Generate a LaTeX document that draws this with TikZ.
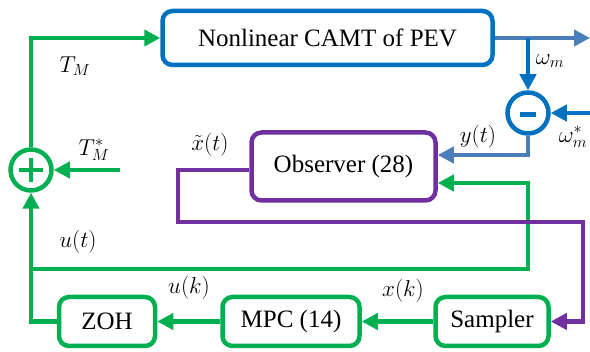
\RequirePackage{fix-cm}
\documentclass[tikz,border=0pt]{standalone}
\usepackage{fontspec}
\setmainfont{Liberation Serif}
\usetikzlibrary{arrows.meta}
\definecolor{grn}{HTML}{00B050}
\definecolor{blu}{HTML}{0070C0}
\definecolor{lblu}{HTML}{4A7EBB}
\definecolor{prp}{HTML}{7030A0}

\begin{document}
\begin{tikzpicture}[x=1pt, y=-1pt, line width=4.5pt,
  blk/.style={draw, rounded corners=10pt, inner sep=0pt, font=\fontsize{25}{30}\selectfont},
  sig/.style={-{Triangle[length=16pt,width=16pt]}},
  lab/.style={font=\fontsize{23}{28}\selectfont}]
\useasboundingbox (0,0) rectangle (590,352);
%
             \node [blk, draw=blu, minimum width=330pt, minimum height=54pt] at (327.5,38) (plant) {Nonlinear CAMT of PEV};
              \node [blk, draw=prp, minimum width=184pt, minimum height=68pt] at (343.5,166.5) (obs) {Observer (28)};
                   \node [blk, draw=grn, minimum width=96pt, minimum height=49pt] at (107,321.5) (zoh) {ZOH};
                       \node [blk, draw=grn, minimum width=137pt, minimum height=49pt] at (291,321.5) (mpc) {MPC (14)};
                        \node [blk, draw=grn, minimum width=113pt, minimum height=49pt] at (492,321.5) (smp) {Sampler};
                        \node [circle, draw=grn, minimum size=41pt, inner sep=0pt] at (31,170) (sum) {};
                          \node [circle, draw=blu, minimum size=41pt, inner sep=0pt] at (528,113) (dif) {};
%
                           \coordinate (tref) at (120,170);
                           \coordinate (wref) at (590,113);
                           \coordinate (wout) at (590,38);
                           \coordinate (ut) at (31,269);
                           \coordinate (pl) at (178,222);
                           \coordinate (pr) at (583,222);
%
\draw[grn, line width=4pt] ([xshift=-12pt]sum.center) -- ([xshift=12pt]sum.center);
\draw[grn, line width=4pt] ([yshift=-12pt]sum.center) -- ([yshift=12pt]sum.center);
\draw[blu, line width=5pt] ([xshift=-8pt,yshift=-2pt]dif.center) -- ([xshift=8pt,yshift=-2pt]dif.center);
%
\draw[grn, sig] (sum.north) |- (plant.west);
\draw[lblu, sig] (plant.east) -- (wout);
\draw[blu, sig] (plant.east -| dif) -- (dif.north);
\draw[blu, sig] (wref) -- (dif.east);
\draw[lblu, sig] (dif.south) |- ([yshift=11.5pt]obs.east);
\draw[grn, sig] (ut) -- (ut -| dif) |- ([yshift=-16.5pt]obs.east);
\draw[prp, sig] ([yshift=-3.5pt]obs.west) -| (pl) -- (pr) |- (smp.east);
\draw[grn, sig] (tref) -- (sum.east);
\draw[grn, sig] (smp.west) -- (mpc.east);
\draw[grn, sig] (mpc.west) -- (zoh.east);
\draw[grn, sig] (zoh.west) -| (sum.south);
%
\node [lab] at (75,66) (lTM) {$T_M$};
\node [lab] at (94,150) (lTr) {$T_M^*$};
\node [lab] at (210,145) (lxt) {$\tilde{x}(t)$};
\node [lab] at (78,242) (lut) {$u(t)$};
\node [lab] at (189,288) (luk) {$u(k)$};
\node [lab] at (403,291) (lxk) {$x(k)$};
\node [lab] at (478,137) (lyt) {$y(t)$};
\node [lab] at (550,61) (lwm) {$\omega_m$};
\node [lab] at (573,137) (lwr) {$\omega_m^*$};
\end{tikzpicture}
\end{document}
